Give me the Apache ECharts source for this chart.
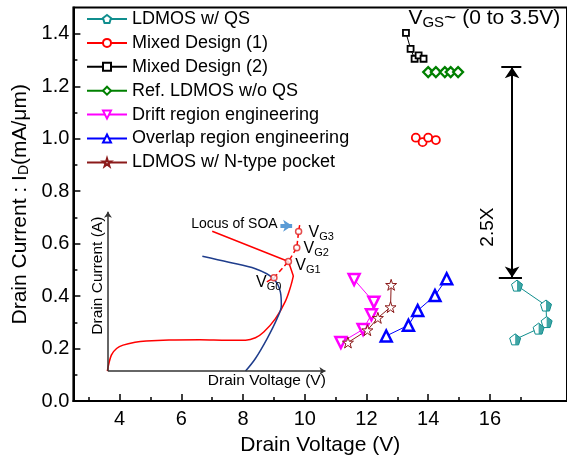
<!DOCTYPE html>
<html><head><meta charset="utf-8">
<script src="https://cdn.jsdelivr.net/npm/echarts@6/dist/echarts.min.js"></script>
<style>html,body{margin:0;padding:0;background:#fff}#c{width:567px;height:461px}</style>
</head><body><div id="c"></div>
<script>
const FONT = '"Liberation Sans", Arial, Helvetica, sans-serif';

// ---- axes ----
const xMin = 2.5, xMax = 18.5, yMin = 0, yMax = 1.5;
const xMajorTicks = [4, 6, 8, 10, 12, 14, 16];
const xMinorTicks = [3, 5, 7, 9, 11, 13, 15, 17];
const yMajorTicks = [0, 0.2, 0.4, 0.6, 0.8, 1.0, 1.2, 1.4];
const yMinorTicks = [0.1, 0.3, 0.5, 0.7, 0.9, 1.1, 1.3];

// ---- series names ----
const names = ['LDMOS w/ QS', 'Mixed Design (1)', 'Mixed Design (2)', 'Ref. LDMOS w/o QS',
  'Drift region engineering', 'Overlap region engineering', 'LDMOS w/ N-type pocket'];

// ---- data (Drain Voltage V, Drain Current mA/um) ----
const qsX = [16.88, 17.82, 17.84, 17.58, 16.82];
const qsY = [0.440, 0.364, 0.301, 0.276, 0.235];
const mixed1X = [13.60, 13.82, 14.00, 14.25];
const mixed1Y = [1.004, 0.987, 1.004, 0.995];
const mixed2X = [13.28, 13.43, 13.56, 13.69, 13.85];
const mixed2Y = [1.404, 1.343, 1.305, 1.318, 1.305];
const refX = [14.00, 14.25, 14.54, 14.73, 14.97];
const refY = [1.254, 1.254, 1.254, 1.254, 1.254];
const driftX = [11.60, 12.24, 12.16, 11.89, 11.17];
const driftY = [0.463, 0.377, 0.329, 0.273, 0.223];
const overlapX = [14.60, 14.22, 13.66, 13.36, 12.64];
const overlapY = [0.466, 0.402, 0.345, 0.289, 0.248];
const pocketX = [12.80, 12.78, 12.37, 12.03, 11.40];
const pocketY = [0.443, 0.358, 0.317, 0.270, 0.223];

// ---- 2.5X annotation ----
const gainArrowX = 16.72;
const gainTop = 1.273, gainBottom = 0.471;
const gainTopBar = [16.37, 17.02];
const gainBottomBar = [16.29, 17.04];

// ---- inset schematic (sketch, drawn in main-axis units) ----
const insetOrigin = [3.62, 0.114];
const insetYEnd = 0.722;
const insetXEnd = 10.67;
const insetRedX = [3.60, 3.73, 3.90, 4.11, 4.50, 4.86, 5.6, 6.6, 7.5, 8.08, 8.40, 8.67, 9.05, 9.37, 9.55, 9.63];
const insetRedY = [0.114, 0.175, 0.200, 0.213, 0.224, 0.229, 0.233, 0.234, 0.232, 0.232, 0.241, 0.263, 0.314, 0.380, 0.440, 0.477];
const insetRedTopX = [9.63, 9.47, 7.00];
const insetRedTopY = [0.477, 0.532, 0.647];
const insetBlueX = [6.68, 7.54, 8.40, 8.97, 9.21, 9.24, 9.10, 8.78, 8.40, 8.08];
const insetBlueY = [0.552, 0.529, 0.504, 0.468, 0.415, 0.364, 0.314, 0.238, 0.162, 0.114];
const locusX = [8.77, 9.00, 9.47, 9.74, 9.80, 9.85];
const locusY = [0.454, 0.470, 0.532, 0.584, 0.646, 0.682];
const vgX = [9.00, 9.47, 9.74, 9.80];
const vgY = [0.470, 0.532, 0.584, 0.646];

const zip = (xs, ys) => xs.map((x, i) => [x, ys[i]]);

// symbols
const pentagon = 'path://M0,-1L0.951,-0.309L0.588,0.809L-0.588,0.809L-0.951,-0.309Z';
const pentagonHalf = 'path://M-0.951,-0.309L-0.951,-0.309ZM0,-1L0.951,-0.309L0.588,0.809L0,0.809Z';
const star = 'path://M0,-1L0.224,-0.309L0.951,-0.309L0.363,0.118L0.588,0.809L0,0.382L-0.588,0.809L-0.363,0.118L-0.951,-0.309L-0.224,-0.309Z';

const TEAL = '#108e8e', RED = '#ff0000', GREEN = '#008000', MAG = '#ff00ff', BLUE = '#0000ff', BROWN = '#8b1a1a';
const colors = [TEAL, RED, '#000', GREEN, MAG, BLUE, BROWN];

function mk(name, data, color, symbol, size, bw, extra) {
  return Object.assign({
    name, type: 'line', data, symbol, symbolSize: size,
    itemStyle: { color: '#fff', borderColor: color, borderWidth: bw },
    lineStyle: { color, width: 1 },
    z: 5
  }, extra || {});
}

const solid = (color, width) => ({ color, width, opacity: 1 });

const series = [
  mk(names[0], zip(qsX, qsY), TEAL, pentagon, 11, 1),
  mk(names[1], zip(mixed1X, mixed1Y), RED, 'circle', 8, 1.8),
  mk(names[2], zip(mixed2X, mixed2Y), '#000', 'rect', 6, 1.8),
  mk(names[3], zip(refX, refY), GREEN, 'diamond', 10, 2.2),
  mk(names[4], zip(driftX, driftY), MAG, 'triangle', 11, 2.5, { symbolRotate: 180 }),
  mk(names[5], zip(overlapX, overlapY), BLUE, 'triangle', 11, 2.5),
  mk(names[6], zip(pocketX, pocketY), BROWN, star, 11, 1),
  {
    name: 'qsHalf', type: 'scatter', data: zip(qsX, qsY), symbol: pentagonHalf, symbolSize: 11,
    itemStyle: { color: TEAL, borderWidth: 0 }, z: 6, silent: true
  },
  // inset curves
  { name: 'insetRed', type: 'line', data: zip(insetRedX, insetRedY), smooth: 0.35, symbol: 'none',
    lineStyle: { color: RED, width: 1.5 }, z: 3, silent: true },
  { name: 'insetRedTop', type: 'line', data: zip(insetRedTopX, insetRedTopY), symbol: 'none',
    lineStyle: { color: RED, width: 1.5 }, z: 3, silent: true },
  { name: 'insetBlue', type: 'line', data: zip(insetBlueX, insetBlueY), smooth: 0.35, symbol: 'none',
    lineStyle: { color: '#1f3d8c', width: 1.5 }, z: 3, silent: true },
  { name: 'locus', type: 'line', data: zip(locusX, locusY), symbol: 'none',
    lineStyle: { color: RED, width: 1.5, type: [5, 3] }, z: 3, silent: true },
  { name: 'vg', type: 'scatter', data: zip(vgX, vgY), symbol: 'circle', symbolSize: 6,
    itemStyle: { color: '#fff', borderColor: '#d22', borderWidth: 1.5 }, z: 4, silent: true },
  // arrows / bars
  { name: 'arrows', type: 'lines', coordinateSystem: 'cartesian2d', silent: true, z: 4,
    lineStyle: { opacity: 1 },
    data: [
      { coords: [[gainArrowX, gainTop], [gainArrowX, gainBottom]], symbol: ['arrow', 'arrow'], symbolSize: 11,
        lineStyle: solid('#000', 2) },
      { coords: [[gainTopBar[0], gainTop], [gainTopBar[1], gainTop]], symbol: ['none', 'none'],
        lineStyle: solid('#000', 2) },
      { coords: [[gainBottomBar[0], gainBottom], [gainBottomBar[1], gainBottom]], symbol: ['none', 'none'],
        lineStyle: solid('#000', 2) },
      { coords: [insetOrigin, [insetOrigin[0], insetYEnd]], symbol: ['none', 'arrow'], symbolSize: 6,
        lineStyle: solid('#333', 1.5) },
      { coords: [insetOrigin, [insetXEnd, insetOrigin[1]]], symbol: ['none', 'arrow'], symbolSize: 6,
        lineStyle: solid('#333', 1.5) },
      { coords: [[9.21, 0.668], [9.59, 0.668]], symbol: ['none', 'arrow'], symbolSize: 9,
        lineStyle: solid('#5b9bd5', 4) }
    ]
  }
];

const chart = echarts.init(document.getElementById('c'), null, { renderer: 'canvas' });
const baseAxisLine = { show: true, lineStyle: { color: '#000', width: 2 } };

chart.setOption({
  animation: false,
  backgroundColor: '#fff',
  textStyle: { fontFamily: FONT },
  grid: { left: 73.4, top: 7.6, right: -3.3, bottom: 58.3, show: true, borderColor: '#000', borderWidth: 2 },
  legend: {
    data: names.map((n, i) => ({ name: n, itemStyle: { color: '#fff', borderColor: colors[i] } })),
    orient: 'vertical', left: 86, top: 10, padding: 0, itemWidth: 40, itemHeight: 10, itemGap: 5.9,
    textStyle: { fontSize: 18, color: '#000', fontFamily: FONT, lineHeight: 18 }, selectedMode: false
  },
  xAxis: [
    { type: 'value', min: xMin, max: xMax, position: 'bottom',
      axisLine: baseAxisLine,
      axisTick: { show: true, inside: true, length: 7, customValues: xMajorTicks, lineStyle: { color: '#000', width: 1.5 } },
      axisLabel: { customValues: xMajorTicks, fontSize: 20, color: '#000', fontFamily: FONT, margin: 8 },
      splitLine: { show: false },
      name: 'Drain Voltage (V)', nameLocation: 'middle', nameGap: 34,
      nameTextStyle: { fontSize: 21, color: '#000', fontFamily: FONT } },
    { type: 'value', min: xMin, max: xMax, position: 'bottom',
      axisLine: { show: false },
      axisTick: { show: true, inside: true, length: 4, customValues: xMinorTicks, lineStyle: { color: '#000', width: 1.5 } },
      axisLabel: { show: false }, splitLine: { show: false } }
  ],
  yAxis: [
    { type: 'value', min: yMin, max: yMax, position: 'left',
      axisLine: baseAxisLine,
      axisTick: { show: true, inside: true, length: 7, customValues: yMajorTicks, lineStyle: { color: '#000', width: 1.5 } },
      axisLabel: { customValues: yMajorTicks, fontSize: 20, color: '#000', fontFamily: FONT, margin: 4,
        formatter: v => v.toFixed(1) },
      splitLine: { show: false },
      name: 'Drain Current : I{sub|D}(mA/μm)', nameLocation: 'middle', nameGap: 40,
      nameTextStyle: { fontSize: 21, color: '#000', fontFamily: FONT,
        rich: { sub: { fontSize: 14, fontFamily: FONT, color: '#000', verticalAlign: 'bottom', lineHeight: 12 } } } },
    { type: 'value', min: yMin, max: yMax, position: 'left', offset: 0,
      axisLine: { show: false },
      axisTick: { show: true, inside: true, length: 4, customValues: yMinorTicks, lineStyle: { color: '#000', width: 1.5 } },
      axisLabel: { show: false }, splitLine: { show: false } }
  ],
  series
});

// ---- text annotations placed from data coordinates ----
const P = (x, y) => chart.convertToPixel({ xAxisIndex: 0, yAxisIndex: 0 }, [x, y]);
function txt(x, y, text, size, opts) {
  const p = P(x, y);
  return Object.assign({
    type: 'text', x: p[0], y: p[1], z: 10, silent: true,
    style: Object.assign({ text, fill: '#000', font: size + 'px ' + FONT, textAlign: 'left', textVerticalAlign: 'middle' }, (opts && opts.style) || {})
  }, (opts && opts.el) || {});
}
const richSub = (big, small) => ({
  rich: {
    v: { fontSize: big, fontFamily: FONT, fill: '#000', lineHeight: big + 4 },
    s: { fontSize: small, fontFamily: FONT, fill: '#000', verticalAlign: 'bottom', lineHeight: small }
  }
});
const vgLabels = [['0', 8.42, 0.453], ['1', 9.69, 0.516], ['2', 9.96, 0.580], ['3', 10.12, 0.644]];
const graphics = [
  txt(13.36, 1.46, '{v|V}{s|GS}{v|~ (0 to 3.5V)}', 21, { style: richSub(21, 15) }),
  txt(15.93, 0.663, '2.5X', 19, { style: { textAlign: 'center' }, el: { rotation: Math.PI / 2 } }),
  txt(9.12, 0.676, 'Locus of SOA', 14, { style: { textAlign: 'right' } }),
  txt(3.30, 0.478, 'Drain Current (A)', 15.5, { style: { textAlign: 'center' }, el: { rotation: Math.PI / 2 } }),
  txt(8.77, 0.078, 'Drain Voltage (V)', 15.5, { style: { textAlign: 'center' } })
].concat(vgLabels.map(l => txt(l[1], l[2], '{v|V}{s|G' + l[0] + '}', 16, { style: richSub(16, 11) })));
chart.setOption({ graphic: graphics });
</script>
</body></html>
